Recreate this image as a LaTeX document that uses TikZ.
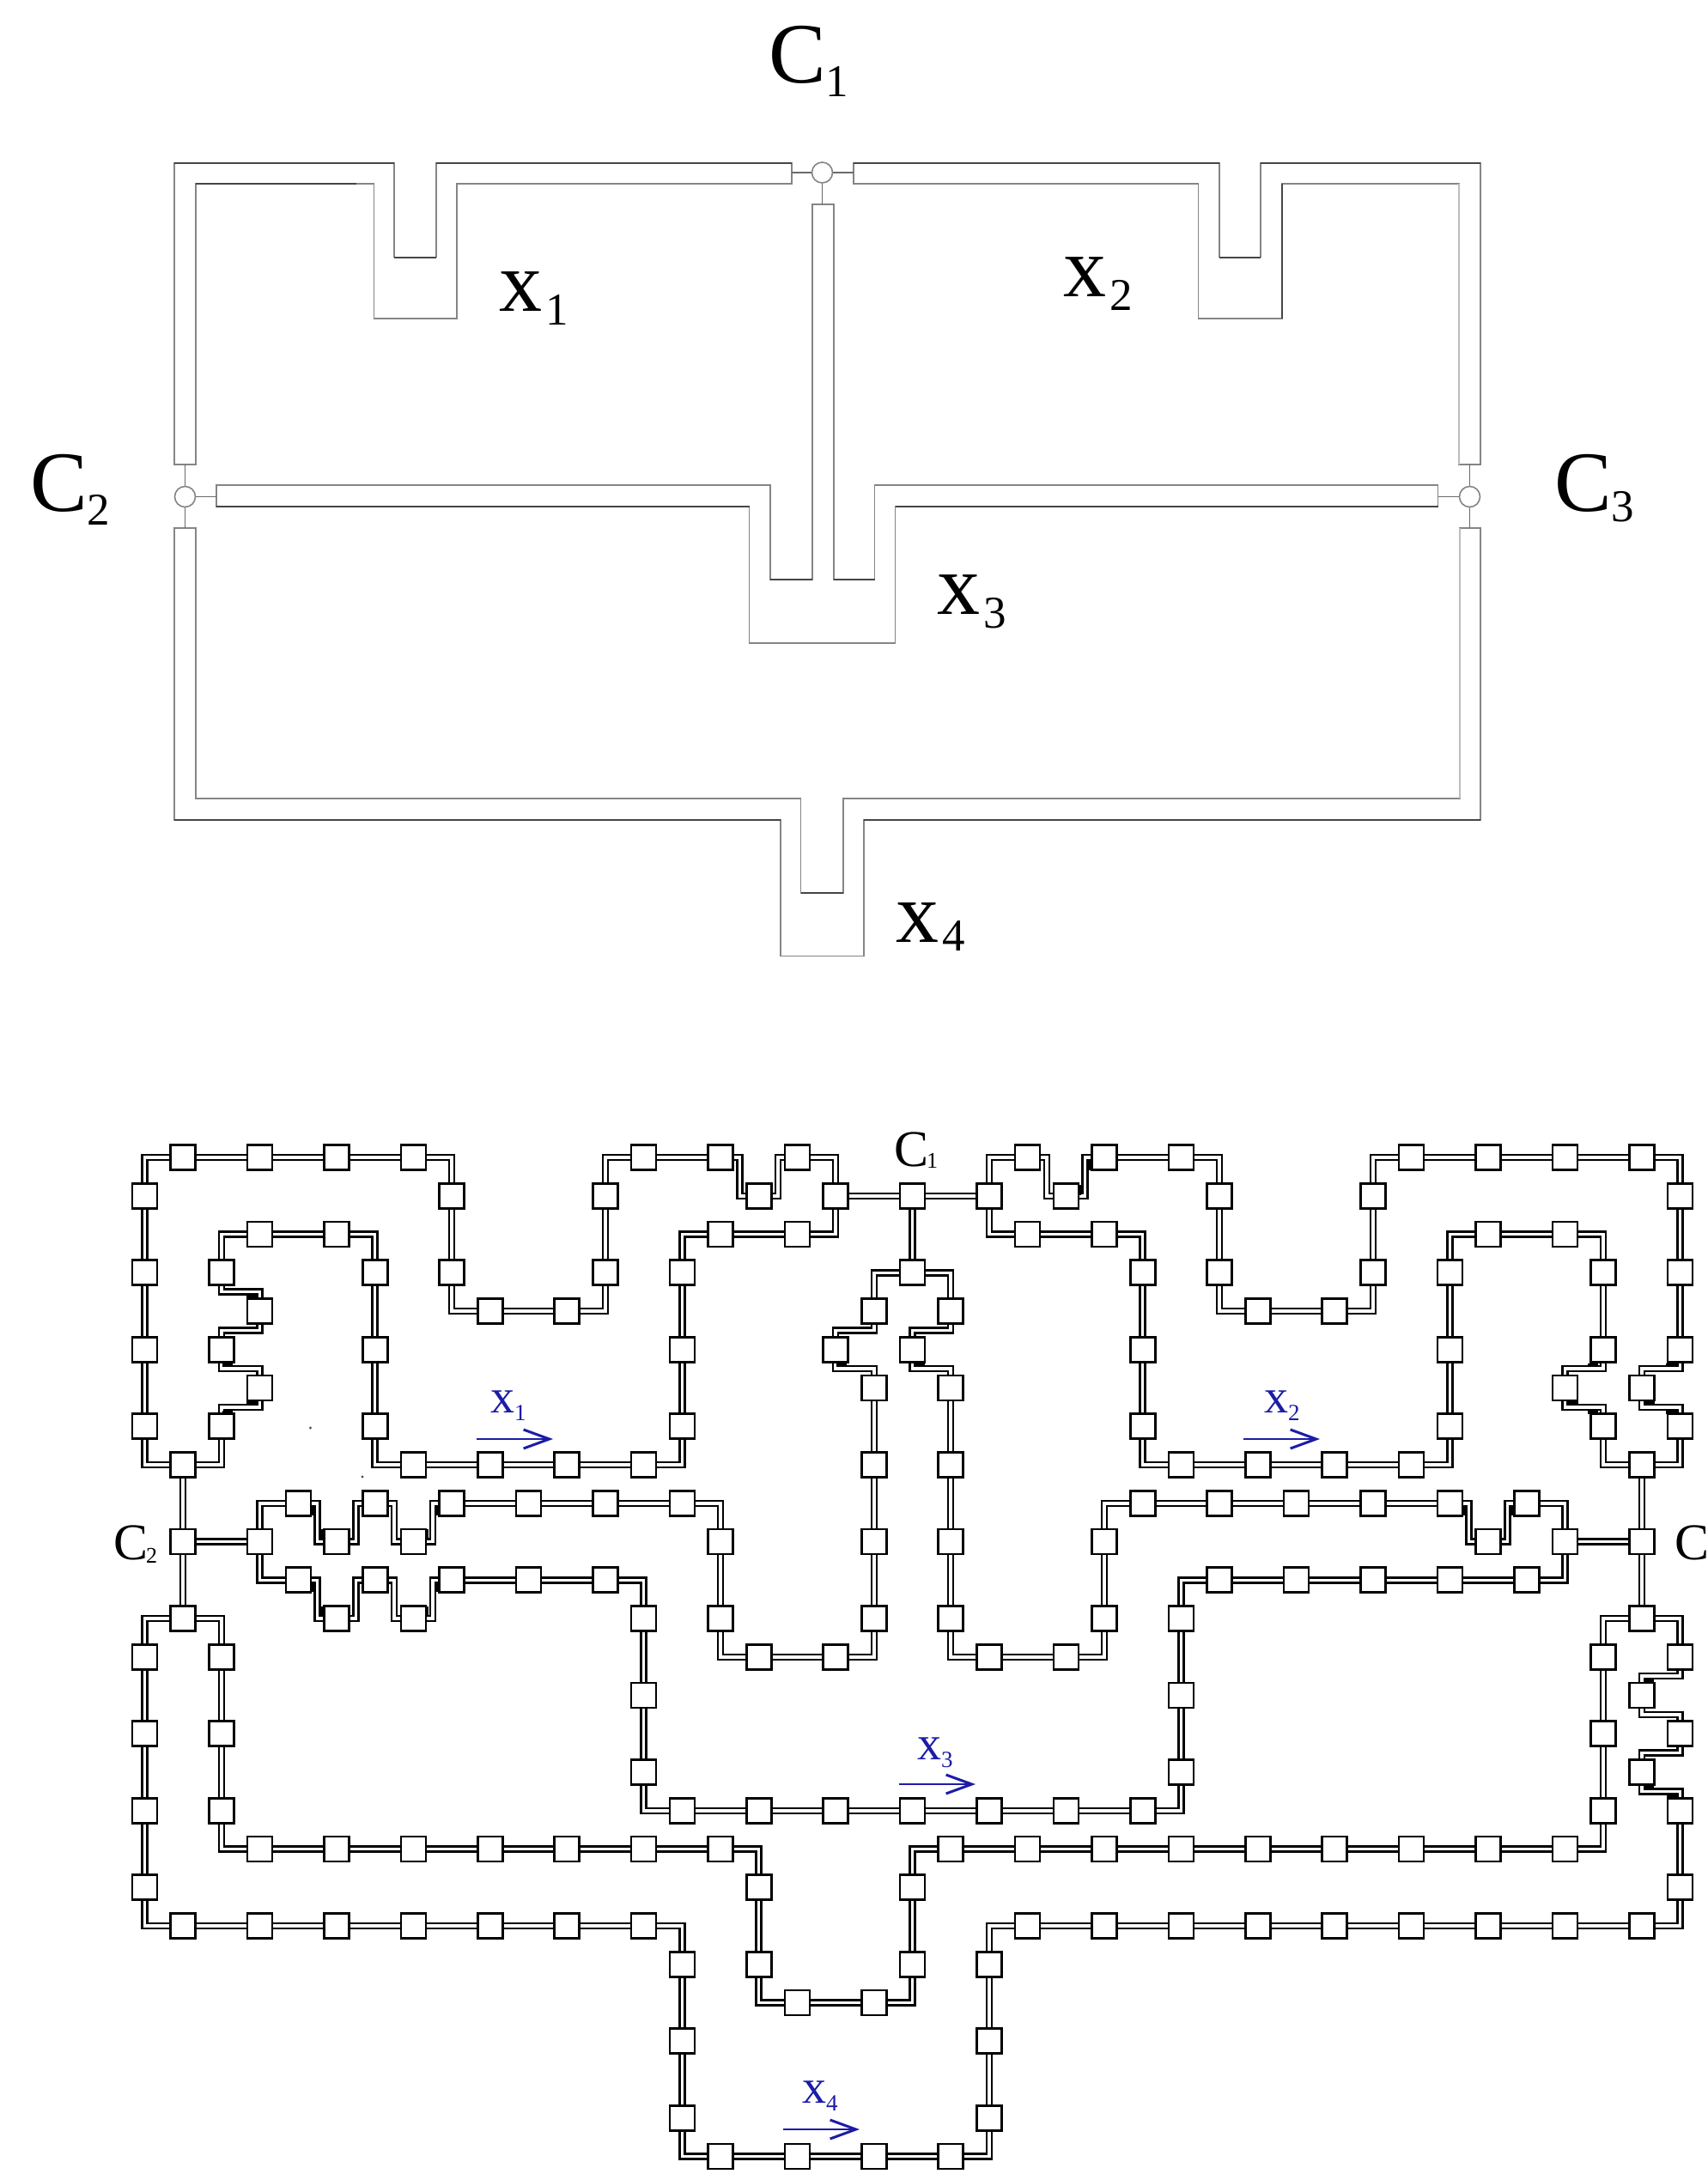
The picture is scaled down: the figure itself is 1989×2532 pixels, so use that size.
\documentclass[tikz,border=0pt]{standalone}
\usepackage{fontspec}
\setmainfont{Liberation Serif}
\usetikzlibrary{arrows.meta}
\definecolor{penblue}{HTML}{1C1CA8}
\definecolor{pgray}{HTML}{858585}
\definecolor{pdark}{HTML}{454545}
\definecolor{plight}{HTML}{BDBDBD}
\newcommand{\sublab}[6]{{\fontsize{#3}{#3}\selectfont #1}\kern#5\raisebox{-#6}{\fontsize{#4}{#4}\selectfont #2}}
\tikzset{
  wall/.style={draw=pgray,line width=0.9pt,line join=miter},
  walldark/.style={draw=pdark,line width=1pt},
  walllight/.style={draw=plight,line width=1pt},
  port/.style={circle,draw=pgray,line width=0.8pt,fill=white,inner sep=0pt,minimum size=12pt},
  lead/.style={draw=pdark!80,line width=0.8pt},
  wire/.style={draw=black,line width=1.25pt,double=white,double distance=1.75pt,line join=miter},
  cell/.style={rectangle,draw=black,line width=1.3pt,fill=white,inner sep=0pt,minimum size=14.5pt},
  txt/.style={anchor=base west,inner sep=0pt,outer sep=0pt},
  flow/.style={draw=penblue,line width=1.4pt,-{Straight Barb[length=15pt,width=11pt,line width=1.5pt]}},
  speck/.style={fill=black!70,circle,inner sep=0pt,minimum size=1.6pt},
}
\begin{document}
\begin{tikzpicture}[x=0.5pt,y=-0.5pt]
\useasboundingbox (0,0) rectangle (1989,2532);
\fill[white] (0,0) rectangle (1989,2532);

% ---- upper diagram: walls ----
\draw[wall] (203,190)--(459,190)--(459,299.5)--(508,299.5)--(508,190)--(922,190)--(922,214)--(532,214)--(532,371)--(435.5,371)--(435.5,214)--(228,214)--(228,541)--(203,541)--cycle;
\draw[wall] (994,190)--(1420,190)--(1420,299.5)--(1468,299.5)--(1468,190)--(1724,190)--(1724,541)--(1699,541)--(1699,214)--(1493,214)--(1493,371)--(1395.5,371)--(1395.5,214)--(994,214)--cycle;
\draw[wall] (252,565)--(897,565)--(897,675)--(946,675)--(946,238)--(971,238)--(971,675)--(1018.5,675)--(1018.5,565)--(1674.5,565)--(1674.5,590)--(1042.5,590)--(1042.5,749)--(872.5,749)--(872.5,590)--(252,590)--cycle;
\draw[wall] (203,615)--(228,615)--(228,930)--(932.5,930)--(932.5,1040)--(982,1040)--(982,930)--(1700,930)--(1700,615)--(1724,615)--(1724,955)--(1006,955)--(1006,1113.5)--(909,1113.5)--(909,955)--(203,955)--cycle;
% emphasis on the edges that print darker or lighter
\draw[walldark] (203,190)--(459,190) (508,190)--(922,190) (228,214)--(415,214) (994,190)--(1420,190) (1468,190)--(1724,190) (459,299.5)--(508,299.5) (1420,299.5)--(1468,299.5);
\draw[walldark] (252,590)--(872.5,590) (1042.5,590)--(1674.5,590) (897,675)--(946,675) (971,675)--(1018.5,675) (203,955)--(909,955) (1006,955)--(1724,955) (932.5,1040)--(982,1040) (1493,214)--(1493,371);
\draw[walllight] (1699,214)--(1699,541) (1700,615)--(1700,930);

% ---- upper diagram: ports ----
\node[port] (pone) at (957.5,201) {};
\node[port] (ptwo) at (215.5,578.5) {};
\node[port] (pthree) at (1711.5,578.5) {};
\coordinate (a1) at (922,201);
\coordinate (a2) at (994,201);
\coordinate (a3) at (957.5,238);
\coordinate (b1) at (215.5,541);
\coordinate (b2) at (215.5,615);
\coordinate (b3) at (252,578.5);
\coordinate (d1) at (1711.5,541);
\coordinate (d2) at (1711.5,615);
\coordinate (d3) at (1674.5,578.5);
\draw[lead] (pone)--(a1) (pone)--(a2) (pone)--(a3);
\draw[lead] (ptwo)--(b1) (ptwo)--(b2) (ptwo)--(b3);
\draw[lead] (pthree)--(d1) (pthree)--(d2) (pthree)--(d3);

% ---- upper diagram: labels ----
\node[txt] (lc1) at (895,96) {\sublab{C}{1}{50pt}{26.5pt}{0pt}{8pt}};
\node[txt] (lc2) at (35,595) {\sublab{C}{2}{50pt}{26.5pt}{0pt}{8pt}};
\node[txt] (lc3) at (1810,595) {\sublab{C}{3}{50pt}{26.5pt}{0pt}{6pt}};
\node[txt] (lx1) at (581,362) {\sublab{x}{1}{50pt}{26.5pt}{2pt}{8pt}};
\node[txt] (lx2) at (1238,345) {\sublab{x}{2}{50pt}{26.5pt}{2pt}{8pt}};
\node[txt] (lx3) at (1091,715) {\sublab{x}{3}{50pt}{26.5pt}{2pt}{8pt}};
\node[txt] (lx4) at (1043,1097) {\sublab{x}{4}{50pt}{26.5pt}{2pt}{5pt}};

% ---- lower diagram, on its lattice ----
\begin{scope}[shift={(168.5,1348)},x=22.35pt,y=-22.375pt]
\draw[wire] (18,1)--(18,0)--(16.5,0)--(16.5,1)--(15.5,1)--(15.5,0)--(12,0)--(12,4)--(8,4)--(8,0)--(0,0)--(0,8)--(2,8)--(2,6.5)--(3,6.5)--(3,5.5)--(2,5.5)--(2,4.5)--(3,4.5)--(3,3.5)--(2,3.5)--(2,2)--(6,2)--(6,8)--(14,8)--(14,2)--(18,2)--cycle;
\draw[wire] (3,11)--(3,9)--(4.5,9)--(4.5,10)--(5.5,10)--(5.5,9)--(6.5,9)--(6.5,10)--(7.5,10)--(7.5,9)--(15,9)--(15,13)--(19,13)--(19,5.5)--(18,5.5)--(18,4.5)--(19,4.5)--(19,3)--(21,3)--(21,4.5)--(20,4.5)--(20,5.5)--(21,5.5)--(21,13)--(25,13)--(25,9)--(34.5,9)--(34.5,10)--(35.5,10)--(35.5,9)--(37,9)--(37,11)--(27,11)--(27,17)--(13,17)--(13,11)--(7.5,11)--(7.5,12)--(6.5,12)--(6.5,11)--(5.5,11)--(5.5,12)--(4.5,12)--(4.5,11)--cycle;
\draw[wire] (22,1)--(22,0)--(23.5,0)--(23.5,1)--(24.5,1)--(24.5,0)--(28,0)--(28,4)--(32,4)--(32,0)--(40,0)--(40,5.5)--(39,5.5)--(39,6.5)--(40,6.5)--(40,8)--(38,8)--(38,6.5)--(37,6.5)--(37,5.5)--(38,5.5)--(38,2)--(34,2)--(34,8)--(26,8)--(26,2)--(22,2)--cycle;
\draw[wire] (39,12)--(38,12)--(38,18)--(20,18)--(20,22)--(16,22)--(16,18)--(2,18)--(2,12)--(0,12)--(0,20)--(14,20)--(14,26)--(22,26)--(22,20)--(40,20)--(40,16.5)--(39,16.5)--(39,15.5)--(40,15.5)--(40,14.5)--(39,14.5)--(39,13.5)--(40,13.5)--(40,12)--cycle;

\foreach \r/\cs in {
 0/{1,3,5,7,13,15,17,23,25,27,33,35,37,39},
 1/{0,8,12,16,18,20,22,24,28,32,40},
 2/{3,5,15,17,23,25,35,37},
 3/{0,2,6,8,12,14,20,26,28,32,34,38,40},
 4/{3,9,11,19,21,29,31},
 5/{0,2,6,14,18,20,26,34,38,40},
 6/{3,19,21,37,39},
 7/{0,2,6,14,26,34,38,40},
 8/{1,7,9,11,13,19,21,27,29,31,33,39},
 9/{4,6,8,10,12,14,26,28,30,32,34,36},
 10/{1,3,5,7,15,19,21,25,35,37,39},
 11/{4,6,8,10,12,28,30,32,34,36},
 12/{1,5,7,13,15,19,21,25,27,39},
 13/{0,2,16,18,22,24,38,40},
 14/{13,27,39},
 15/{0,2,38,40},
 16/{13,27,39},
 17/{0,2,14,16,18,20,22,24,26,38,40},
 18/{3,5,7,9,11,13,15,21,23,25,27,29,31,33,35,37},
 19/{0,16,20,40},
 20/{1,3,5,7,9,11,13,23,25,27,29,31,33,35,37,39},
 21/{14,16,20,22},
 22/{17,19},
 23/{14,22},
 25/{14,22},
 26/{15,17,19,21}}{
  \foreach \c in \cs { \node[cell] (s\c-\r) at (\c,\r) {}; }
}
% junction wires
\draw[wire] (s18-1)--(s20-1);
\draw[wire] (s20-1)--(s22-1);
\draw[wire] (s20-1)--(s20-3);
\draw[wire] (s1-8)--(s1-10);
\draw[wire] (s1-10)--(s1-12);
\draw[wire] (s1-10)--(s3-10);
\draw[wire] (s39-8)--(s39-10);
\draw[wire] (s39-10)--(s39-12);
\draw[wire] (s37-10)--(s39-10);
\end{scope}

% short heavy spots where a wire touches a cell
\foreach \x/\y in {293/1511,265/1590,293/1634,265/1645,980/1590,1071/1590,1855/1590,1832/1634,1855/1645,1946/1590,1921/1634,1946/1645,1920/1958,1920/2082,1947/2093}
  \fill[black] (\x-6,\y-2) rectangle (\x+6,\y+2);
\foreach \x/\y in {362.5/1759,374/1787,497/1787,509/1759,362.5/1848,374/1877,497/1877,509/1848,1268/1357,1257/1386,1705/1759,1760/1759}
  \fill[black] (\x-2,\y-6) rectangle (\x+2,\y+6);
\node[speck] (sp1) at (361.5,1663) {};
\node[speck] (sp2) at (422,1720) {};

% ---- lower diagram: labels and flow arrows ----
\node[txt] (mc1) at (1041,1358) {\sublab{C}{1}{30pt}{13pt}{-1pt}{1pt}};
\node[txt] (mc2) at (132,1816) {\sublab{C}{2}{30pt}{13pt}{-1pt}{2pt}};
\node[txt] (mc3) at (1950,1816) {\sublab{C}{3}{30pt}{13pt}{-1pt}{2pt}};
\node[txt,text=penblue] (mx1) at (571,1645) {\sublab{x}{1}{28pt}{13.5pt}{0pt}{4.5pt}};
\node[txt,text=penblue] (mx2) at (1472,1645) {\sublab{x}{2}{28pt}{13.5pt}{0pt}{4.5pt}};
\node[txt,text=penblue] (mx3) at (1068,2049) {\sublab{x}{3}{28pt}{13.5pt}{0pt}{4.5pt}};
\node[txt,text=penblue] (mx4) at (934,2449) {\sublab{x}{4}{28pt}{13.5pt}{0pt}{4.5pt}};
\coordinate (f1a) at (555,1676); \coordinate (f1b) at (644,1676);
\coordinate (f2a) at (1448,1676); \coordinate (f2b) at (1537,1676);
\coordinate (f3a) at (1047,2078); \coordinate (f3b) at (1136,2078);
\coordinate (f4a) at (912,2480); \coordinate (f4b) at (1001,2480);
\draw[flow] (f1a)--(f1b);
\draw[flow] (f2a)--(f2b);
\draw[flow] (f3a)--(f3b);
\draw[flow] (f4a)--(f4b);
\end{tikzpicture}
\end{document}
